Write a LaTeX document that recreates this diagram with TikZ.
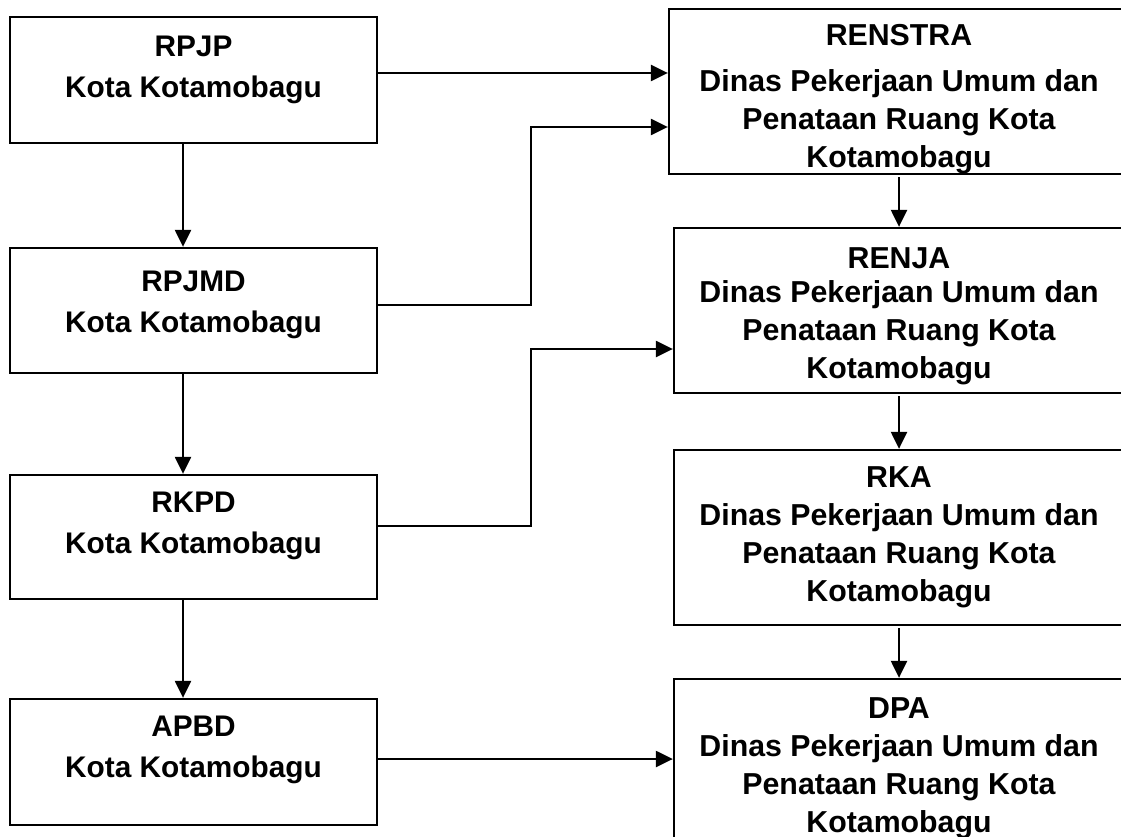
\documentclass[tikz,border=0pt]{standalone}
\usepackage{fontspec}
\setmainfont{Liberation Sans}
\usetikzlibrary{arrows.meta,positioning}

\tikzset{
  box/.style={draw, line width=2.3pt, inner sep=0pt},
  leftbox/.style={box, minimum width=367pt},
  rightbox/.style={box, minimum width=450pt},
  ltxt/.style={align=center, inner sep=0pt, font=\bfseries\fontsize{29.8}{41}\selectfont},
  rtxt/.style={align=center, inner sep=0pt, font=\bfseries\fontsize{30.3}{38}\selectfont},
  arr/.style={-{Triangle[length=17pt,width=16pt]}, line width=2.3pt},
}

\begin{document}
\begin{tikzpicture}[x=1pt, y=-1pt]
        \useasboundingbox (0,0) rectangle (1121,837);

        % left column
        \node[leftbox, minimum height=126pt] at (193.5, 80)(rpjp){};
        \node[leftbox, minimum height=125pt] at (193.5, 310.5)(rpjmd){};
        \node[leftbox, minimum height=124pt] at (193.5, 537)(rkpd){};
        \node[leftbox, minimum height=126pt] at (193.5, 762)(apbd){};

        % right column
        \node[rightbox, minimum width=460pt, minimum height=165pt] at (899, 91.5)(renstra){};
        \node[rightbox, minimum height=165pt] at (899, 310.5)(renja){};
        \node[rightbox, minimum height=175pt] at (899, 537.5)(rka){};
        \node[rightbox, minimum height=172pt] at (899, 765)(dpa){};

        \node[ltxt, below=20pt of rpjp.north](rpjptxt){RPJP\\Kota Kotamobagu};
        \node[ltxt, below=24pt of rpjmd.north](rpjmdtxt){RPJMD\\Kota Kotamobagu};
        \node[ltxt, below=18pt of rkpd.north](rkpdtxt){RKPD\\Kota Kotamobagu};
        \node[ltxt, below=18pt of apbd.north](apbdtxt){APBD\\Kota Kotamobagu};

        \node[rtxt, below=16pt of renstra.north](renstratxt){RENSTRA\\[8pt]Dinas Pekerjaan Umum dan\\Penataan Ruang Kota\\Kotamobagu};
        \node[rtxt, below=21pt of renja.north](renjatxt){RENJA\\[-4pt]Dinas Pekerjaan Umum dan\\Penataan Ruang Kota\\Kotamobagu};
        \node[rtxt, below=18pt of rka.north](rkatxt){RKA\\Dinas Pekerjaan Umum dan\\Penataan Ruang Kota\\Kotamobagu};
        \node[rtxt, below=20pt of dpa.north](dpatxt){DPA\\Dinas Pekerjaan Umum dan\\Penataan Ruang Kota\\Kotamobagu};

        \coordinate (j1) at (531, 127);
        \coordinate (j2) at (531, 349);

        \draw[arr] ([xshift=-10.5pt]rpjp.south) -- ([xshift=-10.5pt]rpjmd.north);
        \draw[arr] ([xshift=-10.5pt]rpjmd.south) -- ([xshift=-10.5pt]rkpd.north);
        \draw[arr] ([xshift=-10.5pt]rkpd.south) -- ([xshift=-10.5pt]apbd.north);

        \draw[arr, shorten <=2pt] (renstra.south) -- (renja.north);
        \draw[arr, shorten <=2pt] (renja.south) -- (rka.north);
        \draw[arr, shorten <=2pt] (rka.south) -- (dpa.north);

        \draw[arr] ([yshift=7pt]rpjp.east) coordinate (s1) -- (s1 -| renstra.west);
        \draw[arr] ([yshift=5.5pt]rpjmd.east) -| (j1) -- (j1 -| renstra.west);
        \draw[arr] ([yshift=11pt]rkpd.east) -| (j2) -- (j2 -| renja.west);
        \draw[arr] ([yshift=3pt]apbd.east) coordinate (s4) -- (s4 -| dpa.west);
    \end{tikzpicture}
\end{document}
